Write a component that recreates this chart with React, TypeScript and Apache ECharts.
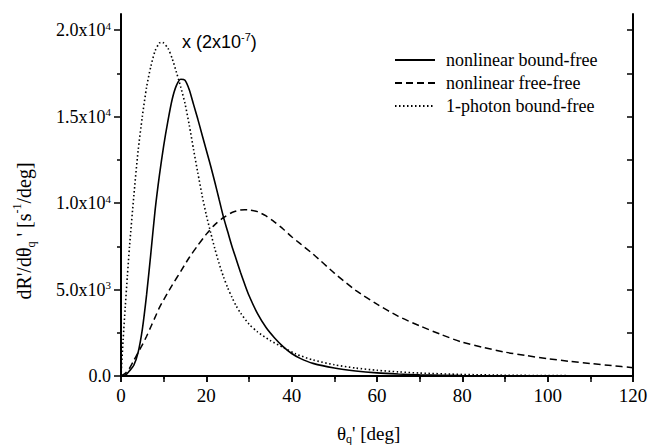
import React, { useEffect, useRef } from "react";
import * as echarts from "echarts";

const boundFreeDeg = [0,1,2,3,4,5,6,7,8,9,10,11,12,13,14,15,16,17,18,19,20,21,22,23,24,25,26,27,28,29,30,32,34,36,38,40,42,45,50,55,60,65,70,80,90,100,110,120];
const boundFreeVal = [0,40,300,620,1350,2700,4700,7100,9600,11600,13300,14750,16000,16800,17150,17100,16550,15700,14850,13950,13050,12150,11200,10200,9200,8350,7500,6750,6000,5300,4650,3600,2800,2200,1700,1300,1020,730,460,290,180,115,70,25,10,4,2,0];

const freeFreeDeg = [0,1,2,3,4,5,6,7,8,9,10,12,14,16,18,20,22,24,26,28,29,30,32,34,36,38,40,42,45,50,55,60,65,70,75,80,85,90,95,100,105,110,115,120];
const freeFreeVal = [0,150,450,900,1350,1800,2300,2850,3400,3950,4400,5250,6050,6850,7550,8200,8750,9150,9450,9600,9610,9600,9500,9250,8900,8500,8050,7650,7050,5950,4950,4150,3450,2900,2400,1950,1650,1380,1180,1000,850,720,600,480];

const photonDeg = [0,0.5,1,1.5,2,3,4,5,6,7,8,9,9.5,10,11,12,13,14,15,16,17,18,19,20,21,22,23,24,25,26,27,28,30,32,35,38,41,45,50,55,60,65,70,80,90,100,110,120];
const photonVal = [0,2100,4000,5800,7500,10400,13000,15000,16700,17900,18800,19250,19300,19250,18950,18350,17550,16700,15750,14500,13100,11750,10450,9300,8300,7350,6500,5750,5100,4550,4050,3650,3000,2550,2050,1650,1270,930,650,460,330,240,170,90,45,25,12,5];

const seriesNames = ["nonlinear bound-free", "nonlinear free-free", "1-photon bound-free"];
const yMajorTicks = [0, 5000, 10000, 15000, 20000];
const yMinorTicks = [2500, 7500, 12500, 17500];
const yAllTicks = [0, 2500, 5000, 7500, 10000, 12500, 15000, 17500, 20000];
const yTickLabels: Record<number, string> = {
  0: "{m|0.0}",
  5000: "{m|5.0x10}{s|3}",
  10000: "{m|1.0x10}{s|4}",
  15000: "{m|1.5x10}{s|4}",
  20000: "{m|2.0x10}{s|4}",
};

const SERIF = "'Liberation Serif', 'Times New Roman', Times, serif";
const SANS = "'Liberation Sans', Arial, sans-serif";
const zip = (xs: number[], ys: number[]) => xs.map((x, i) => [x, ys[i]]);

export default function App() {
  const ref = useRef<HTMLDivElement>(null);
  useEffect(() => {
    if (!ref.current) return;
    const chart = echarts.init(ref.current, undefined, { renderer: "svg" });
    const YMAX = 20925;
    const axisLine = { show: true, lineStyle: { color: "#000", width: 2 } };
    const option: any = {
      animation: false,
      backgroundColor: "#fff",
      textStyle: { fontFamily: SERIF },
      grid: { left: 121, right: 20, top: 14, bottom: 69 },
      legend: {
        orient: "vertical",
        left: 394,
        top: 50,
        padding: 0,
        itemWidth: 40,
        itemHeight: 14,
        itemGap: 3,
        itemStyle: { opacity: 0 },
        textStyle: { fontFamily: SERIF, fontSize: 18, color: "#000", lineHeight: 20, padding: [0, 0, 0, 6] },
        data: seriesNames,
      },
      xAxis: [
        {
          type: "value", min: 0, max: 120, interval: 20, position: "bottom",
          axisLine, splitLine: { show: false },
          axisTick: { show: true, inside: false, length: 6, lineStyle: { color: "#000", width: 1.5 } },
          minorTick: { show: true, splitNumber: 2, length: 3, lineStyle: { color: "#000", width: 1.5 } },
          axisLabel: { fontFamily: SERIF, fontSize: 19, color: "#000", margin: 10 },
        },
        {
          type: "value", min: 0, max: 120, interval: 10, position: "top",
          axisLine, splitLine: { show: false },
          axisTick: { show: true, inside: true, length: 6, lineStyle: { color: "#000", width: 1.5 } },
          axisLabel: { show: false },
        },
      ],
      yAxis: [
        {
          type: "value", min: 0, max: YMAX, position: "left",
          axisLine, splitLine: { show: false },
          axisTick: { show: true, inside: false, length: 7, customValues: yMajorTicks, lineStyle: { color: "#000", width: 1.5 } },
          axisLabel: {
            customValues: yMajorTicks,
            margin: 10,
            formatter: (v: number) => yTickLabels[v] ?? "",
            rich: {
              m: { fontFamily: SERIF, fontSize: 18, color: "#000", lineHeight: 20, verticalAlign: "middle" },
              s: { fontFamily: SERIF, fontSize: 11, color: "#000", lineHeight: 11, verticalAlign: "top" },
            },
          },
        },
        {
          type: "value", min: 0, max: YMAX, position: "left",
          axisLine: { show: false }, splitLine: { show: false },
          axisTick: { show: true, inside: false, length: 4, customValues: yMinorTicks, lineStyle: { color: "#000", width: 1.5 } },
          axisLabel: { show: false },
        },
        {
          type: "value", min: 0, max: YMAX, position: "right",
          axisLine, splitLine: { show: false },
          axisTick: { show: true, inside: true, length: 6, customValues: yAllTicks, lineStyle: { color: "#000", width: 1.5 } },
          axisLabel: { show: false },
        },
      ],
      series: [
        {
          name: seriesNames[0], type: "line", xAxisIndex: 0, yAxisIndex: 0,
          data: zip(boundFreeDeg, boundFreeVal), showSymbol: false, symbol: "none", smooth: 0.25,
          lineStyle: { color: "#000", width: 1.6, type: "solid" }, itemStyle: { color: "#000" },
        },
        {
          name: seriesNames[1], type: "line", xAxisIndex: 0, yAxisIndex: 0,
          data: zip(freeFreeDeg, freeFreeVal), showSymbol: false, symbol: "none", smooth: 0.25,
          lineStyle: { color: "#000", width: 1.5, type: [7, 4] }, itemStyle: { color: "#000" },
        },
        {
          name: seriesNames[2], type: "line", xAxisIndex: 0, yAxisIndex: 0,
          data: zip(photonDeg, photonVal), showSymbol: false, symbol: "none", smooth: 0.25,
          lineStyle: { color: "#000", width: 1.6, type: [1.5, 2.5] }, itemStyle: { color: "#000" },
        },
      ],
      graphic: [
        {
          type: "text", left: 182, top: 31,
          style: {
            text: "{a|x (2x10}{b|-7}{a|)}",
            rich: {
              a: { fontFamily: SANS, fontSize: 18, fill: "#000", lineHeight: 22, verticalAlign: "middle" },
              b: { fontFamily: SANS, fontSize: 11, fill: "#000", lineHeight: 11, verticalAlign: "top" },
            },
          },
        },
        {
          type: "text", x: 337, y: 421,
          style: {
            text: "{a|θ}{b|q}{a|' [deg]}",
            rich: {
              a: { fontFamily: SERIF, fontSize: 19, fill: "#000", lineHeight: 24, verticalAlign: "middle" },
              b: { fontFamily: SERIF, fontSize: 12, fill: "#000", lineHeight: 12, verticalAlign: "bottom" },
            },
          },
        },
        {
          type: "text", x: 24, y: 231, rotation: Math.PI / 2,
          style: {
            text: "{a|dR'/dθ}{b|q}{a| ' [s}{c|-1}{a|/deg]}",
            align: "center", verticalAlign: "middle",
            rich: {
              a: { fontFamily: SERIF, fontSize: 20, fill: "#000", lineHeight: 26, verticalAlign: "middle" },
              b: { fontFamily: SERIF, fontSize: 12, fill: "#000", lineHeight: 12, verticalAlign: "bottom" },
              c: { fontFamily: SERIF, fontSize: 12, fill: "#000", lineHeight: 12, verticalAlign: "top" },
            },
          },
        },
      ],
    };
    chart.setOption(option);
    return () => chart.dispose();
  }, []);
  return (
    <div
      ref={ref}
      style={{ position: "fixed", left: 0, top: 0, width: 653, height: 445, background: "#fff" }}
    />
  );
}
